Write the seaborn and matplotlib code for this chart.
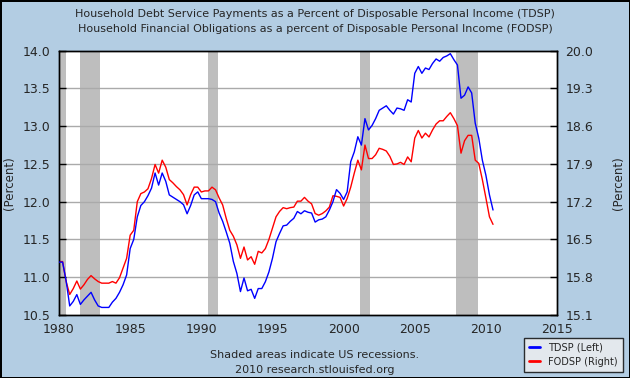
import numpy as np
import pandas as pd
import matplotlib.pyplot as plt
from matplotlib.lines import Line2D
import seaborn as sns

# --- data (quarterly, 1980Q1 .. 2010Q3) ---
tdsp = [
    11.20, 11.20, 10.95, 10.62,  # 1980
    10.68, 10.77, 10.64, 10.70,
    10.75, 10.80, 10.70, 10.62,
    10.60, 10.60, 10.60, 10.67,
    10.72, 10.80, 10.90, 11.03,
    11.38, 11.50, 11.80, 11.95,  # 1985
    12.00, 12.08, 12.18, 12.38,
    12.22, 12.38, 12.27, 12.09,
    12.06, 12.03, 12.00, 11.96,
    11.84, 11.95, 12.09, 12.13,
    12.04, 12.04, 12.04, 12.03,  # 1990
    12.00, 11.85, 11.74, 11.60,
    11.45, 11.21, 11.05, 10.81,
    10.99, 10.82, 10.84, 10.72,
    10.85, 10.85, 10.94, 11.07,
    11.25, 11.47, 11.58, 11.68,  # 1995
    11.69, 11.74, 11.78, 11.87,
    11.84, 11.88, 11.86, 11.85,
    11.73, 11.76, 11.77, 11.80,
    11.89, 12.00, 12.16, 12.11,
    12.03, 12.13, 12.53, 12.66,  # 2000
    12.86, 12.75, 13.10, 12.95,
    13.01, 13.10, 13.21, 13.24,
    13.27, 13.21, 13.16, 13.24,
    13.23, 13.21, 13.35, 13.32,
    13.70, 13.79, 13.70, 13.77,  # 2005
    13.75, 13.83, 13.89, 13.86,
    13.91, 13.93, 13.96, 13.88,
    13.81, 13.37, 13.41, 13.52,
    13.44, 13.04, 12.84, 12.55,
    12.35, 12.09, 11.89,         # 2010
]
fodsp = [
    16.09, 16.09, 15.72, 15.48,  # 1980
    15.59, 15.73, 15.58, 15.66,
    15.76, 15.83, 15.77, 15.72,
    15.69, 15.69, 15.69, 15.72,
    15.69, 15.79, 15.97, 16.15,
    16.58, 16.67, 17.20, 17.35,  # 1985
    17.38, 17.44, 17.63, 17.89,
    17.73, 17.97, 17.84, 17.61,
    17.55, 17.48, 17.42, 17.33,
    17.14, 17.33, 17.47, 17.47,
    17.38, 17.40, 17.40, 17.47,  # 1990
    17.42, 17.27, 17.14, 16.89,
    16.67, 16.56, 16.40, 16.15,
    16.36, 16.12, 16.18, 16.04,
    16.28, 16.25, 16.33, 16.50,
    16.71, 16.92, 17.02, 17.09,  # 1995
    17.07, 17.09, 17.10, 17.21,
    17.21, 17.28, 17.21, 17.16,
    16.98, 16.95, 16.98, 17.03,
    17.10, 17.31, 17.30, 17.28,
    17.12, 17.26, 17.47, 17.73,  # 2000
    17.97, 17.79, 18.25, 18.00,
    18.00, 18.07, 18.19, 18.17,
    18.14, 18.04, 17.89, 17.90,
    17.93, 17.89, 18.03, 17.94,
    18.38, 18.52, 18.38, 18.47,  # 2005
    18.40, 18.53, 18.64, 18.70,
    18.70, 18.78, 18.85, 18.74,
    18.61, 18.10, 18.33, 18.43,
    18.43, 17.97, 17.91, 17.61,
    17.27, 16.92, 16.78,         # 2010
]
years = 1980 + np.arange(len(tdsp)) * 0.25

rec_start = [1980.0, 1981.5, 1990.5, 2001.17, 2007.92]
rec_end = [1980.5, 1982.88, 1991.17, 2001.88, 2009.46]

left_ticks = [10.5, 11.0, 11.5, 12.0, 12.5, 13.0, 13.5, 14.0]
right_ticks = [15.1, 15.8, 16.5, 17.2, 17.9, 18.6, 19.3, 20.0]
x_ticks = [1980, 1985, 1990, 1995, 2000, 2005, 2010, 2015]

df = pd.DataFrame({'year': years, 'TDSP': tdsp, 'FODSP': fodsp})

# --- figure ---
BG = '#B3CDE3'
sns.set_style('white')
plt.rcParams['font.family'] = ['DejaVu Sans']
fig = plt.figure(figsize=(6.3, 3.78), dpi=100, facecolor=BG,
                 edgecolor='black', linewidth=2)
ax2 = fig.add_axes([0.0937, 0.1667, 0.7905, 0.6993])   # back axes: right scale
ax = ax2.twinx()                                        # front axes: left scale
ax.yaxis.tick_left()
ax.yaxis.set_label_position('left')
ax2.yaxis.tick_right()
ax2.yaxis.set_label_position('right')
ax2.set_facecolor('white')
ax.patch.set_visible(False)

# recessions + grid sit on the back axes
for s, e in zip(rec_start, rec_end):
    ax2.axvspan(s, e, color='#BEBEBE', lw=0, zorder=0)
for t in right_ticks[1:-1]:
    ax2.axhline(t, color='#AAAAAA', lw=1, zorder=0.5)

sns.lineplot(data=df, x='year', y='FODSP', ax=ax2, color='#FF0000', lw=1, zorder=3)
sns.lineplot(data=df, x='year', y='TDSP', ax=ax, color='#0000FF', lw=1, zorder=3)

ax2.set_xlim(1980, 2015)
ax.set_ylim(10.5, 14.0)
ax2.set_ylim(15.1, 20.0)
ax2.set_xticks(x_ticks)
ax.set_yticks(left_ticks)
ax.set_yticklabels([f'{t:.1f}' for t in left_ticks])
ax2.set_yticks(right_ticks)
ax2.set_yticklabels([f'{t:.1f}' for t in right_ticks])

for a in (ax, ax2):
    a.tick_params(direction='in', length=5, width=1, color='black',
                  labelsize=9, pad=6)
    for sp in a.spines.values():
        sp.set_color('black')
        sp.set_linewidth(1)
ax.tick_params(axis='y', right=False, left=True, labelleft=True, labelright=False)
ax2.tick_params(axis='y', left=False, right=True, labelleft=False, labelright=True)

ax.set_xlabel('')
ax2.set_xlabel('')
ax.set_ylabel('(Percent)', fontsize=8.5)
ax2.set_ylabel('(Percent)', fontsize=8.5)
ax.yaxis.set_label_coords(-0.087, 0.5)
ax2.yaxis.set_label_coords(1.11, 0.5)

fig.text(0.5, 0.962, 'Household Debt Service Payments as a Percent of Disposable Personal Income (TDSP)',
         ha='center', va='center', fontsize=8)
fig.text(0.5, 0.922, 'Household Financial Obligations as a percent of Disposable Personal Income (FODSP)',
         ha='center', va='center', fontsize=8)
fig.text(0.5, 0.060, 'Shaded areas indicate US recessions.', ha='center', va='center', fontsize=8)
fig.text(0.5, 0.020, '2010 research.stlouisfed.org', ha='center', va='center', fontsize=8)

handles = [Line2D([], [], color='#0000FF', lw=2),
           Line2D([], [], color='#FF0000', lw=2)]
leg = fig.legend(handles, ['TDSP (Left)', 'FODSP (Right)'], loc='lower right',
                 bbox_to_anchor=(0.996, 0.004), fontsize=7, frameon=True,
                 fancybox=False, handlelength=1.2, borderpad=0.5, labelspacing=0.4)
leg.get_frame().set_edgecolor('black')
leg.get_frame().set_facecolor('#F0F0F0')
leg.get_frame().set_linewidth(1)

fig.savefig('out.png', dpi=100, facecolor=BG, edgecolor='black')
